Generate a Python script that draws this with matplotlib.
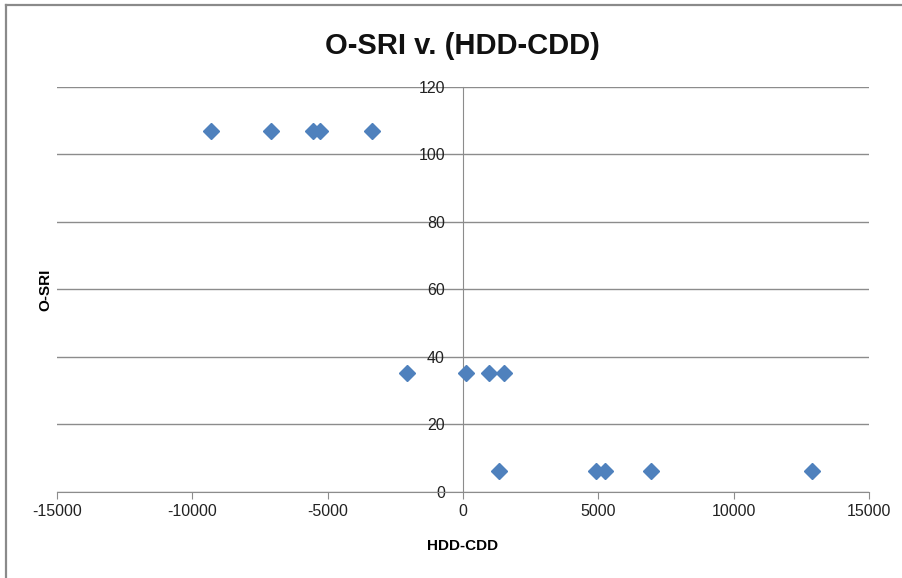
import matplotlib
matplotlib.use("Agg")
import matplotlib.pyplot as plt
from matplotlib.lines import Line2D

plt.rcParams['font.family'] = ['Liberation Sans', 'DejaVu Sans']

# HDD-CDD (x) vs O-SRI (y)
hdd_cdd = [-9300, -7100, -5550, -5300, -3350,
           -2050, 130, 950, 1520,
           1340, 4900, 5250, 6950, 12900]
o_sri = [107, 107, 107, 107, 107,
         35.3, 35.3, 35.3, 35.3,
         6.2, 6.2, 6.2, 6.2, 6.2]

x_ticks = [-15000, -10000, -5000, 0, 5000, 10000, 15000]
y_ticks = [0, 20, 40, 60, 80, 100, 120]

GRID = "#8c8c8c"
BLUE = "#4f81bd"

fig = plt.figure(figsize=(9.03, 5.78), dpi=100)
ax = fig.add_axes([0.0631, 0.1488, 0.8992, 0.7007])

ax.plot(hdd_cdd, o_sri, linestyle="none", marker="D", markersize=8,
        color=BLUE, markeredgecolor=BLUE, zorder=3, clip_on=False)

ax.set_xlim(-15000, 15000)
ax.set_ylim(0, 120)
ax.set_xticks(x_ticks)
ax.set_yticks(y_ticks)
ax.set_xticklabels([str(v) for v in x_ticks])
ax.set_yticklabels([str(v) for v in y_ticks])

ax.grid(True, axis="y", color=GRID, linewidth=1.0, zorder=0)
ax.set_axisbelow(True)

ax.spines["left"].set_position(("data", 0))
ax.spines["left"].set_color(GRID)
ax.spines["bottom"].set_color(GRID)
ax.spines["top"].set_visible(False)
ax.spines["right"].set_visible(False)

ax.tick_params(axis="x", direction="out", length=5, color=GRID,
               labelsize=11.5, pad=4, labelcolor="#222222")
ax.tick_params(axis="y", length=0, pad=13, labelsize=11.5,
               labelcolor="#222222")

ax.set_xlabel("HDD-CDD", fontsize=11, fontweight="bold", labelpad=14)
ax.set_ylabel("O-SRI", fontsize=11, fontweight="bold")
ax.yaxis.set_label_coords((52 - 57) / 812, 0.5)

fig.text(0.512, 0.92, "O-SRI v. (HDD-CDD)", ha="center", va="center",
         fontsize=21, fontweight="bold", color="#111111")

# chart frame (left and top edges visible)
fig.add_artist(Line2D([6 / 903, 6 / 903], [0, 1 - 5 / 578],
                      transform=fig.transFigure, color="#8a8a8a", linewidth=1.6))
fig.add_artist(Line2D([6 / 903, 1], [1 - 5 / 578, 1 - 5 / 578],
                      transform=fig.transFigure, color="#8a8a8a", linewidth=1.6))

fig.savefig("out.png", dpi=100)
